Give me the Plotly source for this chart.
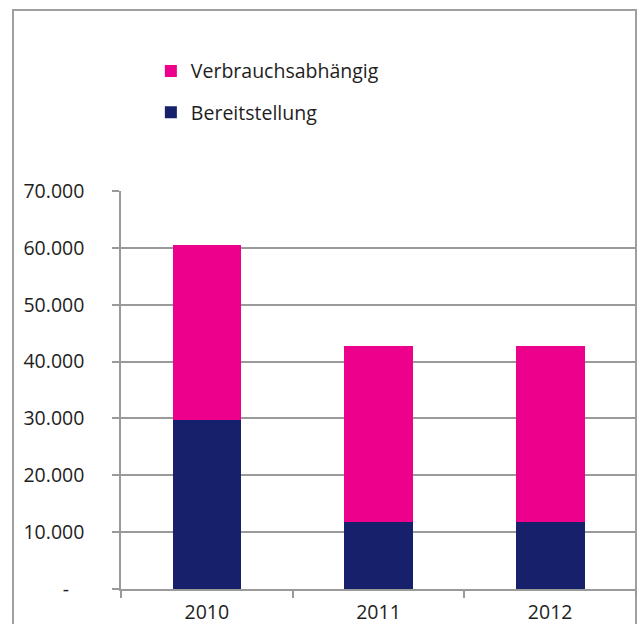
import plotly.graph_objects as go

years = ["2010", "2011", "2012"]
bereitstellung = [29650, 11800, 11800]
verbrauch = [30800, 30970, 30970]

y_tickvals = [0, 10000, 20000, 30000, 40000, 50000, 60000, 70000]
y_ticktext = ["-\u00a0\u00a0\u00a0", "10.000", "20.000", "30.000", "40.000", "50.000", "60.000", "70.000"]

NAVY = "#16206b"
PINK = "#ec008c"
GRID = "#9a9a9a"
TXT = "#1e1e1e"
FONT = "Open Sans"
FS = 19.5

fig = go.Figure()
fig.add_trace(go.Bar(x=years, y=bereitstellung, name="Bereitstellung",
                     marker=dict(color=NAVY, line=dict(width=0)),
                     legendgroup="b", legendrank=2))
fig.add_trace(go.Bar(x=years, y=verbrauch, name="Verbrauchsabhängig",
                     marker=dict(color=PINK, line=dict(width=0)),
                     legendgroup="v", legendrank=1))

fig.update_layout(
    width=643, height=624,
    barmode="stack", bargap=0.6,
    paper_bgcolor="white", plot_bgcolor="white",
    margin=dict(l=121, r=7, t=191, b=35, autoexpand=False),
    font=dict(family=FONT, size=FS, color=TXT),
    showlegend=True,
    legend=dict(x=0.058, y=1.35, xanchor="left", yanchor="top",
                traceorder="grouped", tracegroupgap=13,
                font=dict(family=FONT, size=FS, color=TXT),
                bgcolor="rgba(0,0,0,0)", itemwidth=30),
    shapes=[dict(type="rect", xref="paper", yref="paper",
                 x0=-0.2097, x1=1.0, y0=-0.3, y1=1.455,
                 line=dict(color="#a0a0a0", width=2), layer="below")],
)

fig.update_yaxes(range=[0, 70000], tickvals=y_tickvals, ticktext=y_ticktext,
                 showgrid=True, gridcolor=GRID, gridwidth=1.5,
                 showline=True, linecolor=GRID, linewidth=1.5,
                 ticks="outside", ticklen=7, tickcolor=GRID, tickwidth=1.5,
                 ticklabelstandoff=24, zeroline=False, automargin=False,
                 tickfont=dict(family=FONT, size=FS, color=TXT))
fig.update_xaxes(showgrid=False, showline=True, linecolor=GRID, linewidth=1.5,
                 ticks="outside", tickson="boundaries", ticklen=7,
                 tickcolor=GRID, tickwidth=1.5, ticklabelstandoff=5,
                 automargin=False,
                 tickfont=dict(family=FONT, size=FS, color=TXT))

fig.write_html("out.html")
